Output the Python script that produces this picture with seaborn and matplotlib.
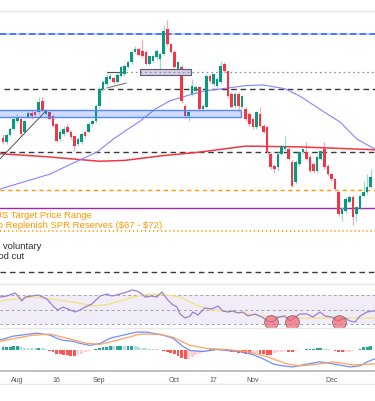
import matplotlib
matplotlib.use("Agg")
import matplotlib.pyplot as plt
import seaborn as sns
import numpy as np
import pandas as pd
from matplotlib.patches import Rectangle

# ---- data ----
# daily candles from 26 Jul 2023 (business days)
opens = [79.4, 78.8, 79.8, 80.6, 81.6, 81.9, 80.2, 82.2, 82.7, 82.8, 82.8, 84.3, 82.6, 82.8, 82.3, 81.2,
         79.2, 79.9, 80.8, 80.2, 79.6, 78.6, 78.8, 80.2, 80.2, 81.2, 81.6, 83.6, 85.9, 86.5, 87.2, 87.3,
         86.8, 87.6, 87.8, 88.8, 89.4, 90.8, 91.2, 90.9, 90.8, 89.2, 89.6, 90.1, 89.8, 90.5, 93.8, 91.8,
         90.8, 88.5, 88.8, 83.6, 82.3, 85.2, 85.6, 86.1, 83.2, 83.5, 87.6, 86.5, 86.3, 86.8, 89.2, 88.2,
         85.2, 83.6, 85.2, 83.5, 83.2, 82.5, 81.9, 80.8, 82.6, 81.0, 80.8, 77.3, 75.7, 75.5, 77.3, 77.9,
         77.9, 76.2, 73.5, 75.9, 77.5, 77.5, 76.9, 75.9, 75.0, 76.6, 77.9, 75.7, 74.6, 73.9, 72.2, 69.3,
         69.7, 70.9, 71.6, 69.3, 70.0, 71.7, 72.2, 72.9]
highs = [79.9, 80.0, 80.8, 82.1, 82.5, 82.3, 81.8, 83.0, 83.2, 83.0, 84.8, 84.8, 83.2, 83.0, 82.5, 81.4,
         80.5, 81.0, 81.2, 80.4, 79.8, 79.5, 80.2, 80.4, 81.5, 81.9, 83.9, 86.1, 87.1, 87.8, 88.0, 87.5,
         88.0, 89.0, 89.2, 89.7, 91.0, 91.5, 91.4, 92.5, 91.0, 90.4, 90.4, 91.1, 90.7, 94.3, 95.0, 92.0,
         91.0, 89.6, 89.0, 83.9, 83.0, 87.2, 86.4, 86.3, 83.8, 87.8, 87.8, 88.0, 87.4, 89.6, 89.4, 88.4,
         85.4, 85.4, 85.4, 85.1, 83.5, 82.8, 82.1, 83.0, 83.5, 81.2, 81.0, 77.5, 75.9, 77.5, 78.5, 79.6,
         78.1, 76.4, 76.4, 77.7, 78.1, 78.8, 77.1, 76.2, 77.1, 77.8, 78.8, 75.9, 74.8, 74.1, 72.4, 70.2,
         71.5, 71.8, 71.8, 70.4, 71.9, 73.7, 74.6, 75.3]
lows = [78.6, 78.6, 79.6, 80.4, 81.4, 79.6, 80.0, 82.0, 81.9, 82.2, 82.6, 82.8, 82.4, 81.7, 80.8, 78.8,
        79.0, 79.7, 80.0, 79.3, 77.6, 78.3, 78.6, 79.4, 80.0, 81.0, 81.4, 83.4, 85.7, 86.3, 87.0, 86.5,
        86.6, 87.4, 87.6, 88.6, 89.2, 90.6, 90.2, 90.0, 89.0, 89.0, 89.4, 89.9, 88.5, 90.3, 91.6, 90.6,
        88.6, 88.3, 84.0, 82.0, 81.6, 85.0, 85.4, 83.0, 83.0, 83.3, 86.7, 86.3, 86.1, 86.6, 88.0, 84.7,
        83.3, 83.4, 83.0, 83.3, 81.6, 81.0, 80.6, 80.6, 80.8, 80.0, 77.3, 75.3, 74.8, 75.0, 77.1, 77.7,
        76.4, 72.9, 73.3, 75.7, 77.3, 76.4, 74.8, 74.8, 74.8, 76.4, 75.3, 74.4, 73.7, 72.4, 69.0, 68.4,
        69.5, 70.7, 67.8, 68.4, 69.8, 71.5, 72.0, 72.7]
closes = [78.8, 79.8, 80.6, 81.9, 82.2, 79.9, 81.6, 82.7, 82.3, 82.4, 84.1, 83.0, 83.0, 81.9, 81.0, 79.0,
          80.2, 80.6, 80.2, 79.5, 78.3, 79.2, 79.9, 79.6, 81.2, 81.6, 83.6, 85.9, 86.8, 87.5, 87.6, 86.8,
          87.7, 88.8, 88.9, 89.4, 90.8, 91.2, 90.4, 90.2, 89.2, 90.2, 90.2, 90.9, 90.5, 93.5, 91.8, 90.8,
          88.8, 89.4, 84.3, 82.3, 82.8, 86.3, 86.1, 83.2, 83.6, 87.6, 86.9, 87.8, 87.2, 88.9, 88.2, 84.9,
          83.5, 85.2, 83.6, 84.9, 81.9, 81.2, 80.8, 82.8, 81.0, 80.2, 77.5, 75.5, 75.3, 77.3, 78.3, 78.3,
          76.6, 73.0, 76.2, 77.5, 77.9, 76.6, 75.0, 75.0, 76.9, 77.6, 75.5, 74.6, 73.9, 72.6, 69.3, 70.0,
          71.3, 71.6, 68.9, 70.2, 71.7, 72.2, 72.9, 74.2]

# moving averages (bar index, price)
ma200_idx = [-1, 12, 27, 34, 44, 55, 68, 83, 105]
ma200_val = [77.3, 76.9, 76.3, 76.4, 77.0, 77.5, 78.3, 78.2, 77.8]
ma50_idx = [-1, 13.2, 20.7, 26.3, 30.8, 34.2, 38.4, 42.6, 46.8, 52.4, 56.6, 67.8, 72.8, 79.0, 83.2, 91.0,
            94.4, 99.2, 105]
ma50_val = [72.6, 74.6, 76.3, 77.5, 79.2, 80.3, 81.6, 83.2, 84.3, 85.1, 85.6, 86.3, 86.4, 85.9, 84.9, 82.5,
            81.5, 79.2, 77.7]

# horizontal levels
lvl_blue = 93.15
lvl_flag = 88.11
lvl_black = [85.86, 77.5, 61.66]
spr_high, spr_low = 72.48, 67.05
lvl_purple = 70.06
zone_blue = (82.15, 83.08)
zone_flag = (87.72, 88.51)

# RSI (bar index, value)
rsi_idx = [-1, 1.1, 3.4, 4.2, 5.3, 6.2, 9.8, 12.3, 14.0, 15.4, 16.8, 18.2, 20.2, 21.6, 23.0, 24.9, 27.2,
           29.1, 30.5, 32.8, 34.7, 36.1, 37.5, 38.9, 39.8, 41.7, 43.1, 44.5, 45.9, 47.3, 48.7, 49.6, 51.0,
           52.4, 53.2, 54.6, 56.6, 58.5, 60.2, 61.6, 63.0, 64.4, 65.8, 67.2, 68.6, 70.6, 72.5, 74.2, 75.6,
           77.0, 79.0, 80.4, 81.8, 83.2, 85.2, 86.8, 88.8, 90.2, 92.2, 93.8, 95.8, 97.2, 98.6, 100.0,
           102.0, 103.6, 105]
rsi_val = [67.2, 68.6, 72.8, 68.6, 61.7, 67.2, 70.0, 64.5, 54.8, 49.3, 53.4, 50.7, 46.6, 49.3, 53.4, 57.6,
           68.6, 71.4, 68.6, 71.4, 74.1, 76.9, 75.5, 71.4, 67.2, 68.6, 67.2, 74.1, 64.5, 57.6, 53.4, 43.8,
           38.3, 41.0, 46.6, 42.4, 52.1, 50.7, 54.8, 47.9, 46.6, 47.9, 45.2, 46.6, 41.0, 43.8, 39.7, 34.1,
           32.8, 39.7, 41.0, 34.1, 39.7, 43.8, 43.8, 39.7, 46.6, 41.0, 39.7, 34.1, 38.3, 34.1, 32.8, 41.0,
           46.6, 47.9, 48.5]
rsi_ma_idx = [-1, 8.4, 17.9, 25.2, 30.0, 36.4, 41.2, 45.9, 49.6, 54.6, 58.5, 65.0, 72.5, 81.0, 90.2, 105]
rsi_ma_val = [61.7, 67.2, 61.7, 54.8, 57.6, 67.2, 71.4, 70.0, 67.2, 54.8, 49.3, 46.6, 41.0, 38.3, 38.3, 38.3]
oversold_idx = [75, 81, 94]
oversold_val = [32.5, 32.5, 32.5]

# MACD (bar index, value)
macd_idx = [-1, 2.8, 9.5, 13.2, 15.1, 16.8, 19.6, 21.6, 24.4, 27.2, 30.0, 33.6, 37.5, 40.3, 44.8, 47.6,
            50.4, 52.4, 56.0, 59.9, 62.7, 66.4, 70.0, 72.8, 75.6, 78.4, 81.2, 84.0, 88.8, 92.4, 97.2,
            100.0, 102.0, 105]
macd_val = [2.25, 3.25, 4.0, 3.5, 2.75, 2.25, 2.0, 1.5, 1.0, 1.5, 2.75, 3.5, 4.25, 4.25, 3.5, 2.75, 0.75,
            -0.25, -0.5, 0.0, -0.25, -0.5, -1.25, -2.25, -3.5, -4.0, -4.25, -3.75, -3.0, -3.5, -4.25, -4.0,
            -3.0, -2.0]
signal_idx = [-1, 8.4, 13.2, 17.9, 23.5, 27.2, 31.9, 38.4, 44.0, 47.6, 52.4, 57.1, 62.7, 68.3, 73.9, 79.5,
              83.2, 88.8, 92.4, 98.0, 105]
signal_val = [2.0, 3.5, 3.75, 2.75, 1.5, 1.25, 2.25, 3.75, 3.75, 3.0, 1.0, 0.25, 0.0, -0.5, -1.75, -3.5,
              -4.0, -3.5, -3.0, -3.75, -3.5]
hist = [0.5, 0.6, 0.7, 0.75, 0.8, 0.6, 0.45, 0.4, 0.35, 0.3, 0.35, 0.3, 0.15, -0.3, -0.6, -1.0,
        -1.2, -1.3, -1.4, -1.5, -1.5, -1.4, -1.0, -0.7, -0.4, -0.2, 0.2, 0.4, 0.6, 0.7, 0.8, 0.75,
        0.8, 0.9, 0.85, 0.9, 0.95, 0.8, 0.5, 0.4, 0.3, 0.2, 0.15, 0.1, -0.1, -0.3, -0.6, -0.9,
        -1.2, -1.6, -2.0, -2.3, -2.2, -1.8, -1.4, -1.0, -0.6, -0.3, 0.1, 0.15, 0.1, -0.1, -0.2, -0.3,
        -0.5, -0.7, -0.8, -0.9, -1.0, -1.0, -0.95, -0.9, -1.1, -1.2, -1.3, -1.35, -0.8, -0.6, -0.5, -0.4,
        -0.6, -0.7, -0.4, -0.2, -0.1, 0.1, 0.15, 0.2, 0.3, 0.35, 0.2, 0.1, -0.1, -0.4, -0.6, -0.7,
        -0.6, -0.5, -0.4, -0.1, 0.2, 0.5, 0.7, 0.8]

dates = pd.bdate_range("2023-07-26", periods=len(opens))
tick_dates = ["2023-08-01", "2023-08-16", "2023-09-01", "2023-10-02", "2023-10-17", "2023-11-01", "2023-12-01"]
tick_labels = ["Aug", "16", "Sep", "Oct", "17", "Nov", "Dec"]

# ---- style ----
sns.set_theme(style="white")
plt.rcParams["font.family"] = ["Liberation Sans", "DejaVu Sans"]
plt.rcParams["lines.scale_dashes"] = False

UP, DOWN = "#089981", "#f23645"
xlim = (-0.84, 104.2)

fig = plt.figure(figsize=(3.75, 4.02), dpi=100)
ax_p = fig.add_axes([0, 0.2935, 1, 0.6766])
ax_r = fig.add_axes([0, 0.1841, 1, 0.1070])
ax_m = fig.add_axes([0, 0.0746, 1, 0.1070])

for ax in (ax_p, ax_r, ax_m):
    ax.set_xlim(*xlim)
    ax.set_facecolor("white")
    for s in ax.spines.values():
        s.set_visible(False)
    ax.set_yticks([])
    ax.set_xticks([])

# ---- price panel ----
o = np.array(opens); h = np.array(highs); l = np.array(lows); c = np.array(closes)
x = np.arange(len(o))
up = c >= o
body_col = np.where(up, UP, DOWN)
wick_col = np.where(up, "#9fd9cf", "#f9a9b0")
ax_p.vlines(x, l, h, colors=wick_col, lw=0.9, zorder=3)
ax_p.bar(x, np.maximum(np.abs(c - o), 0.08), bottom=np.minimum(o, c), width=0.72,
         color=body_col, linewidth=0, zorder=4)

# levels
ax_p.axhline(lvl_blue, color="#aac0ff", lw=1.1, zorder=2)
ax_p.axhline(lvl_blue, color="#2962ff", lw=1.1, ls=(0, (4.5, 2.5)), zorder=2)
ax_p.plot([29.1, 104.5], [lvl_flag, lvl_flag], color="#8a8d96", lw=0.9, ls=(0, (1.2, 2.2)), zorder=2)
ax_p.plot([29.1, 33.3], [lvl_flag, lvl_flag], color="#555555", lw=0.8, zorder=2)
ax_p.plot([29.1, 34.5], [86.0, 86.65], color="#777777", lw=0.8, zorder=5)
ax_p.plot([0.3, 104.5], [lvl_black[0], lvl_black[0]], color="#3a3a3a", lw=1.0, ls=(0, (4, 2.8)), zorder=2)
for lv in lvl_black[1:]:
    ax_p.axhline(lv, color="#3a3a3a", lw=1.0, ls=(0, (4, 2.8)), zorder=2)
ax_p.axhline(spr_high, color="#ff9800", lw=1.0, ls=(0, (3, 2.6)), zorder=2)
ax_p.axhline(spr_low, color="#ff9800", lw=1.2, ls=(0, (0.9, 2.0)), zorder=2)
ax_p.axhline(lvl_purple, color="#9c27b0", lw=1.0, zorder=2)

# zones
ax_p.add_patch(Rectangle((xlim[0] - 1, zone_blue[0]), 66.7 - xlim[0] + 1, zone_blue[1] - zone_blue[0],
                         facecolor="#2962ff", alpha=0.22, edgecolor="none", zorder=5))
ax_p.add_patch(Rectangle((xlim[0] - 1, zone_blue[0]), 66.7 - xlim[0] + 1, zone_blue[1] - zone_blue[0],
                         facecolor="none", edgecolor="#5b84ff", lw=1.0, zorder=5))
ax_p.add_patch(Rectangle((38.4, zone_flag[0]), 14.3, zone_flag[1] - zone_flag[0],
                         facecolor="#d8cdea", edgecolor="#5d5d6a", lw=0.8, zorder=5))
ax_p.plot([38.4, 52.7], [lvl_flag, lvl_flag], color="#8a8d96", lw=0.9, ls=(0, (1.2, 2.2)), zorder=6)

# trend line
ax_p.plot([-0.84, 12.0], [76.6, 82.95], color="#555555", lw=0.7, zorder=5)

# moving averages
sns.lineplot(x=ma200_idx, y=ma200_val, ax=ax_p, color="#f23645", lw=1.1, zorder=3)
sns.lineplot(x=ma50_idx, y=ma50_val, ax=ax_p, color="#8484ff", lw=0.8, zorder=3)

# annotations (left edge of the labels falls outside the chart, as in the source)
ax_p.text(-2.24, 69.27, "US Target Price Range", color="#ff9800", fontsize=6.8, va="center",
          ha="left", clip_on=True, zorder=7)
ax_p.text(-2.24, 67.95, r"to Replenish SPR Reserves (\$67 - \$72)", color="#ff9800", fontsize=6.8,
          va="center", ha="left", clip_on=True, zorder=7)
ax_p.text(-7.6, 65.2, "Saudi voluntary", color="#2a2e39", fontsize=6.8, va="center", ha="left",
          clip_on=True, zorder=7)
ax_p.text(-3.6, 63.87, "prod cut", color="#2a2e39", fontsize=6.8, va="center", ha="left",
          clip_on=True, zorder=7)

ax_p.set_ylim(60.17, 96.19)
ax_p.set_xlim(*xlim)
ax_p.set_xlabel(""); ax_p.set_ylabel("")

# ---- RSI panel ----
ax_r.fill_between(xlim, 30, 70, color="#7e57c2", alpha=0.1, lw=0)
for lv in (70, 50, 30):
    ax_r.axhline(lv, color="#a0a3ab", lw=0.7, ls=(0, (2, 2)))
sns.lineplot(x=rsi_ma_idx, y=rsi_ma_val, ax=ax_r, color="#f7e07a", lw=0.9)
sns.lineplot(x=rsi_idx, y=rsi_val, ax=ax_r, color="#9a7fd1", lw=0.9)
ax_r.scatter(oversold_idx, oversold_val, s=100, color="#f0606e", alpha=0.7, edgecolor="#555555",
             linewidth=0.6, zorder=5, clip_on=False)
ax_r.set_ylim(25.9, 85.2)
ax_r.set_xlim(*xlim)
ax_r.set_xlabel(""); ax_r.set_ylabel("")

# ---- MACD panel ----
hv = np.array(hist)
prev = np.r_[hv[0], hv[:-1]]
hcol = np.where(hv >= 0, np.where(hv >= prev, "#26a69a", "#b2dfdb"),
                np.where(hv <= prev, "#ff5252", "#ffcdd2"))
ax_m.bar(x, hv, width=0.8, color=hcol, linewidth=0)
sns.lineplot(x=macd_idx, y=macd_val, ax=ax_m, color="#6f8fff", lw=0.9)
sns.lineplot(x=signal_idx, y=signal_val, ax=ax_m, color="#ffa35c", lw=0.9)
ax_m.set_ylim(-5.25, 5.25)
ax_m.set_xlim(*xlim)
ax_m.set_xlabel(""); ax_m.set_ylabel("")
date_idx = pd.Series(np.arange(len(dates)), index=dates)
ax_m.set_xticks([date_idx[pd.Timestamp(d)] for d in tick_dates])
ax_m.set_xticklabels(tick_labels, fontsize=5, color="#50535e")
ax_m.tick_params(axis="x", length=0, pad=3.5)
ax_m.spines["bottom"].set_visible(True)
ax_m.spines["bottom"].set_color("#b2b5be")
ax_m.spines["bottom"].set_linewidth(1.2)

# panel separators
for yy in (1 - 12 / 402, 1 - 285 / 402, 1 - 328.5 / 402, 1 - 385 / 402):
    fig.add_artist(plt.Line2D([0, 1], [yy, yy], color="#e6e8ee", lw=1.0, transform=fig.transFigure))

fig.savefig("out.png", dpi=100)
